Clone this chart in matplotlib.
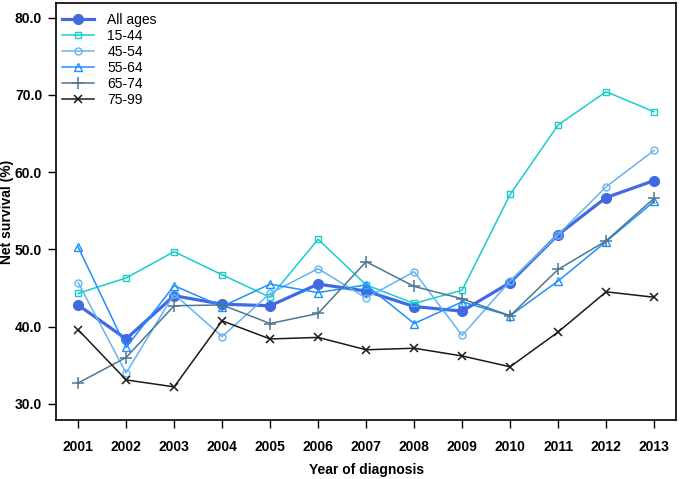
import matplotlib
matplotlib.use('Agg')
import matplotlib.pyplot as plt

plt.rcParams['font.family'] = ['Liberation Sans', 'DejaVu Sans']

# Data
years = list(range(2001, 2014))
all_ages = [42.8, 38.4, 44.0, 42.9, 42.7, 45.5, 44.6, 42.6, 42.0, 45.7, 51.9, 56.7, 58.9]
age_15_44 = [44.3, 46.3, 49.7, 46.7, 43.8, 51.3, 45.4, 43.0, 44.7, 57.1, 66.1, 70.4, 67.8]
age_45_54 = [45.7, 34.0, 44.2, 38.7, 44.3, 47.5, 43.7, 47.1, 38.85, 45.9, 51.9, 58.1, 62.8]
age_55_64 = [50.3, 37.3, 45.3, 42.6, 45.5, 44.4, 45.4, 40.4, 43.2, 41.4, 45.9, 51.0, 56.2]
age_65_74 = [32.7, 36.0, 42.7, 42.8, 40.4, 41.7, 48.4, 45.2, 43.6, 41.4, 47.4, 51.1, 56.6]
age_75_99 = [39.6, 33.1, 32.2, 40.75, 38.4, 38.6, 37.0, 37.2, 36.2, 34.8, 39.3, 44.5, 43.8]
y_ticks = [30, 40, 50, 60, 70, 80]

fig = plt.figure(figsize=(6.8, 4.79), dpi=100)
ax = fig.add_axes([0.0824, 0.123, 0.912, 0.871])

ax.plot(years, all_ages, color='#4169E1', lw=2.3, marker='o', ms=7, label='All ages')
ax.plot(years, age_15_44, color='#19CDCD', lw=1.1, marker='s', ms=5, mfc='none', mew=1, label='15-44')
ax.plot(years, age_45_54, color='#63B4F5', lw=1.1, marker='o', ms=5, mfc='none', mew=1, label='45-54')
ax.plot(years, age_55_64, color='#1E90FF', lw=1.1, marker='^', ms=6, mfc='none', mew=1, label='55-64')
ax.plot(years, age_65_74, color='#4F7690', lw=1.1, marker='+', ms=8, mew=1.1, label='65-74')
ax.plot(years, age_75_99, color='#1A1A1A', lw=1.1, marker='x', ms=6, mew=1.1, label='75-99')

ax.set_xlim(2000.54, 2013.46)
ax.set_ylim(27.9, 81.9)
ax.set_xticks(years)
ax.set_yticks(y_ticks)
ax.set_yticklabels([f'{v:.1f}' for v in y_ticks])
ax.tick_params(axis='both', length=6, width=1, labelsize=10)
ax.tick_params(axis='x', pad=8)
ax.tick_params(axis='y', pad=4)
for lab in ax.get_xticklabels() + ax.get_yticklabels():
    lab.set_fontweight('bold')
for sp in ax.spines.values():
    sp.set_linewidth(1.2)

ax.set_xlabel('Year of diagnosis', fontsize=10, fontweight='bold', labelpad=7)
ax.set_ylabel('Net survival (%)', fontsize=10, fontweight='bold')
ax.yaxis.set_label_coords(-0.068, 0.5)

ax.legend(loc='upper left', frameon=False, fontsize=10, handlelength=2.3,
          labelspacing=0.15, handletextpad=1.0, borderaxespad=0.0,
          bbox_to_anchor=(0.0, 0.99))

fig.savefig('out.png', dpi=100)
